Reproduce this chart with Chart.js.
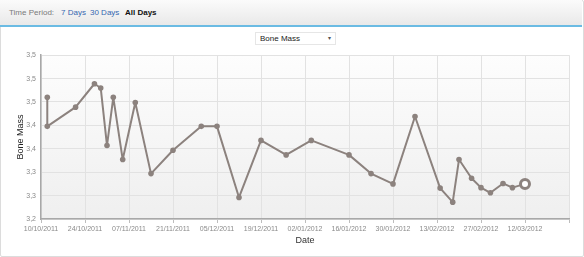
<!DOCTYPE html>
<html>
<head>
<meta charset="utf-8">
<script src="https://cdn.jsdelivr.net/npm/chart.js@4.4.0/dist/chart.umd.min.js"></script>
<style>
  html, body { margin: 0; padding: 0; width: 584px; height: 257px; overflow: hidden; background: #fff; font-family: "Liberation Sans", Arial, sans-serif; }
  #frame { position: absolute; left: 0; top: 0; width: 582px; height: 255px; border: 1px solid #dcdcdc; border-radius: 2px; }
  #hdr { position: absolute; left: 0; top: 0; width: 582px; height: 25px; background: linear-gradient(#fbfbfb, #e9e9e9); border-bottom: 2px solid #6bbbe3; font-size: 8px; }
  #hdr span { position: absolute; top: 8px; white-space: nowrap; }
  #sel { position: absolute; left: 255px; top: 32px; width: 79px; height: 11px; border: 1px solid #e6e6e6; background: #fff; font-size: 8px; color: #222; }
  #sel .t { position: absolute; left: 4px; top: 1px; }
  #sel .a { position: absolute; right: 4px; top: 1px; font-size: 6px; color: #555; }
  #wrap { position: absolute; left: 0; top: 46px; width: 584px; height: 200px; }
</style>
</head>
<body>
<div id="frame"></div>
<div id="hdr">
  <span style="left:9px;color:#7a7a7a;">Time Period:</span>
  <span style="left:61px;color:#3667b0;">7 Days</span>
  <span style="left:90px;color:#3667b0;">30 Days</span>
  <span style="left:125px;color:#111;font-weight:bold;">All Days</span>
</div>
<div id="sel"><span class="t">Bone Mass</span><span class="a">&#9662;</span></div>
<div id="wrap"><canvas id="c" width="584" height="200"></canvas></div>
<script>
// ---- data ----
const startDate = "2011-10-10";
const dates = [
  "2011-10-12","2011-10-12","2011-10-21","2011-10-27","2011-10-29","2011-10-31",
  "2011-11-02","2011-11-05","2011-11-09","2011-11-14","2011-11-21","2011-11-30",
  "2011-12-05","2011-12-12","2011-12-19","2011-12-27","2012-01-04","2012-01-16",
  "2012-01-23","2012-01-30","2012-02-06","2012-02-14","2012-02-18","2012-02-20",
  "2012-02-24","2012-02-27","2012-03-01","2012-03-05","2012-03-08","2012-03-12"
];
const boneMass = [
  3.460, 3.398, 3.439, 3.489, 3.480, 3.357,
  3.460, 3.327, 3.449, 3.297, 3.347, 3.398,
  3.398, 3.246, 3.368, 3.337, 3.368, 3.337,
  3.297, 3.275, 3.419, 3.266, 3.236, 3.327,
  3.287, 3.267, 3.256, 3.276, 3.267, 3.275
];
const xTickLabels = ["10/10/2011","24/10/2011","07/11/2011","21/11/2011","05/12/2011","19/12/2011",
  "02/01/2012","16/01/2012","30/01/2012","13/02/2012","27/02/2012","12/03/2012","26/03/2012"];
const yTickLabels = ["3,2","3,3","3,3","3,4","3,4","3,5","3,5","3,5"];
const yMin = 3.2, yMax = 3.55, yStep = 0.05;
const xSpanDays = 168, xStepDays = 14;

// ---- build ----
const DAY = 86400000;
const t0 = Date.parse(startDate + "T00:00:00Z");
const points = dates.map((d, i) => ({ x: (Date.parse(d + "T00:00:00Z") - t0) / DAY, y: boneMass[i] }));
const lastIdx = points.length - 1;

const bgPlugin = {
  id: 'plotBg',
  beforeDraw(chart) {
    const a = chart.chartArea, ctx = chart.ctx;
    const g = ctx.createLinearGradient(0, a.top, 0, a.bottom);
    g.addColorStop(0, '#fdfdfd');
    g.addColorStop(1, '#efefef');
    ctx.save();
    ctx.fillStyle = g;
    ctx.fillRect(a.left, a.top, a.right - a.left, a.bottom - a.top);
    ctx.restore();
  }
};

new Chart(document.getElementById('c'), {
  type: 'line',
  data: {
    datasets: [{
      data: points,
      borderColor: '#8c827e',
      backgroundColor: '#8c827e',
      borderWidth: 2,
      borderJoinStyle: 'round',
      borderCapStyle: 'round',
      tension: 0,
      pointRadius: ctx => ctx.dataIndex === lastIdx ? 4.5 : 2.8,
      pointBackgroundColor: ctx => ctx.dataIndex === lastIdx ? '#ffffff' : '#8c827e',
      pointBorderColor: '#8c827e',
      pointBorderWidth: ctx => ctx.dataIndex === lastIdx ? 3 : 0
    }]
  },
  options: {
    responsive: false,
    animation: false,
    events: [],
    layout: { padding: { left: 15, right: 15, top: 6, bottom: 0 } },
    plugins: { legend: { display: false }, tooltip: { enabled: false } },
    scales: {
      x: {
        type: 'linear',
        min: 0, max: xSpanDays,
        ticks: {
          stepSize: xStepDays,
          autoSkip: false,
          maxRotation: 0,
          padding: 2,
          color: '#8a8a8a',
          font: { family: 'Liberation Sans', size: 7 },
          callback: (v, i) => (i < xTickLabels.length - 1 ? xTickLabels[i] : '')
        },
        grid: { color: '#e2e2e2', tickLength: 4, tickColor: '#bdbdbd' },
        border: { color: '#a8a8a8', width: 1.5 },
        title: { display: true, text: 'Date', color: '#333', font: { family: 'Liberation Sans', size: 9 }, padding: { top: 2, bottom: 0 } },
        afterFit: s => { s.height = 27; }
      },
      y: {
        type: 'linear',
        min: yMin, max: yMax,
        ticks: {
          stepSize: yStep,
          padding: 5,
          color: '#8a8a8a',
          font: { family: 'Liberation Sans', size: 7 },
          callback: (v, i) => yTickLabels[i]
        },
        grid: { color: '#e2e2e2', tickLength: 0 },
        border: { color: '#a8a8a8', width: 1.5 },
        title: { display: true, text: 'Bone Mass', color: '#222', font: { family: 'Liberation Sans', size: 9 }, padding: { top: 0, bottom: 0 } },
        afterFit: s => { s.width = 26; }
      }
    }
  },
  plugins: [bgPlugin]
});
</script>
</body>
</html>
